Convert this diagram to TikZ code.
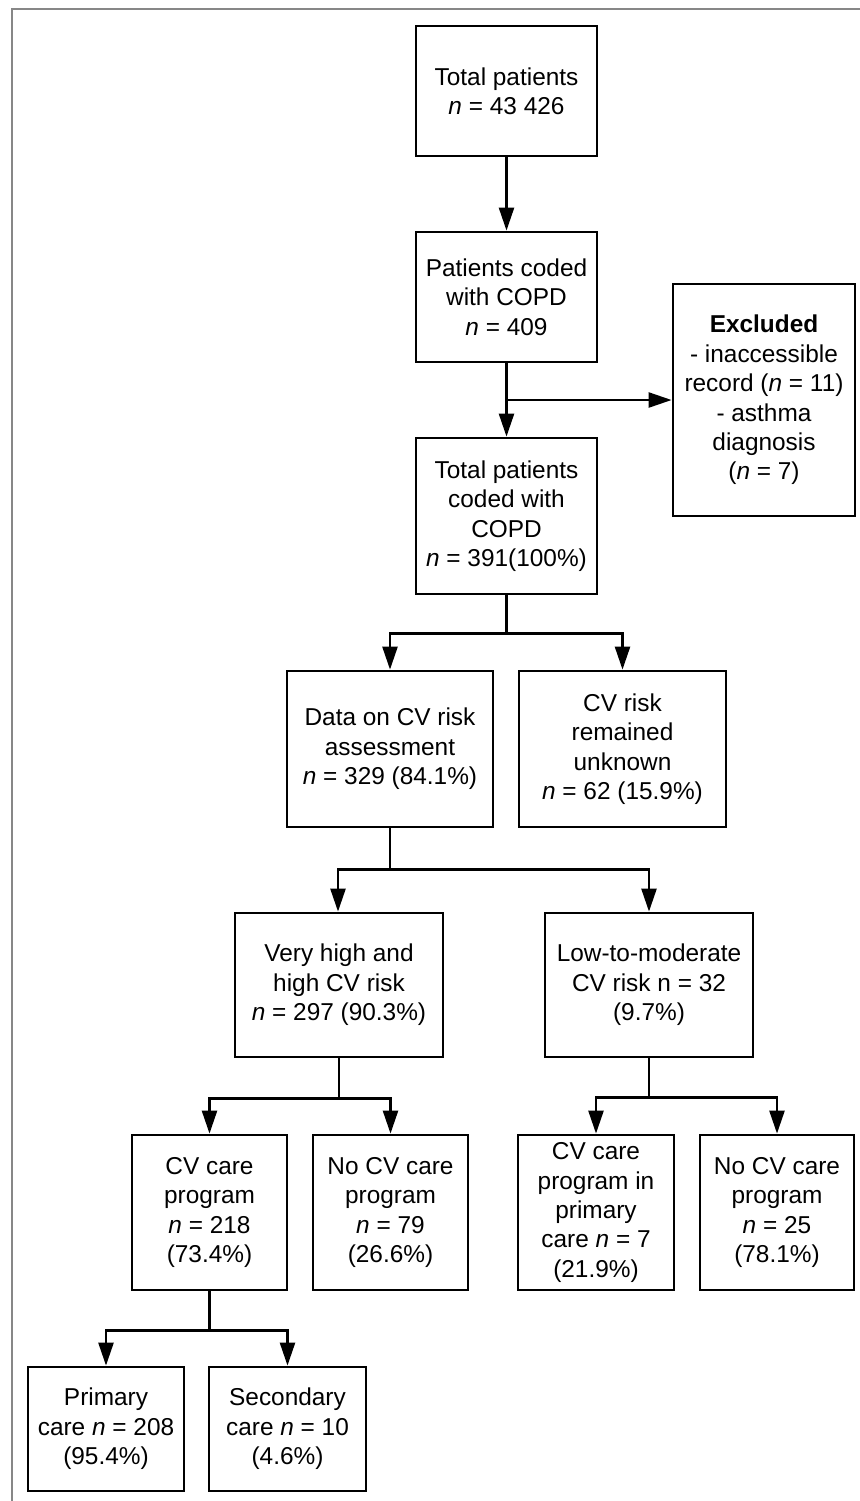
\documentclass[tikz,border=0pt]{standalone}
\usepackage{fontspec}
\setmainfont{Liberation Sans}
\usepackage{tikz}
\usetikzlibrary{arrows.meta, calc}

\begin{document}
\begin{tikzpicture}[x=0.5pt, y=-0.5pt,
        box/.style={rectangle, draw, line width=1.4pt, align=center, inner sep=2pt,
                font=\fontsize{12.2}{14.7}\selectfont},
        link/.style={line width=1.2pt},
        arr/.style={link, -{Triangle[length=11.5pt, width=7.5pt]}}]
        \useasboundingbox (0,0) rectangle (860,1501);
        % frame remnant
        \draw[color=black!47, line width=1pt] (11.5,1501) -- (11.5,8.5) -- (860,8.5);

        \node[box, minimum width=90.5pt, minimum height=65pt] (tot) at (506.5,91)
                {Total patients\\\textit{n} = 43 426};
        \node[box, minimum width=90.5pt, minimum height=65pt] (coded) at (506.5,297)
                {Patients coded\\with COPD\\\textit{n} = 409};
        \node[box, minimum width=91pt, minimum height=116pt] (excl) at (764,400)
                {\textbf{Excluded}\\- inaccessible\\record (\textit{n} = 11)\\- asthma\\diagnosis\\(\textit{n} = 7)};
        \node[box, minimum width=90.5pt, minimum height=78pt] (copd) at (506.5,516)
                {Total patients\\coded with\\COPD\\\textit{n} = 391(100\%)};
        \node[box, minimum width=103pt, minimum height=78pt] (data) at (390,749)
                {Data on CV risk\\assessment\\\textit{n} = 329 (84.1\%)};
        \node[box, minimum width=103.5pt, minimum height=78pt] (unk) at (622.5,749)
                {CV risk\\remained\\unknown\\\textit{n} = 62 (15.9\%)};
        \node[box, minimum width=104pt, minimum height=72pt] (high) at (339,985)
                {Very high and\\high CV risk\\\textit{n} = 297 (90.3\%)};
        \node[box, minimum width=104pt, minimum height=72pt] (low) at (649,985)
                {Low-to-moderate\\CV risk n = 32\\(9.7\%)};
        \node[box, minimum width=77.5pt, minimum height=77.5pt] (care) at (209.5,1212.5)
                {CV care\\program\\\textit{n} = 218\\(73.4\%)};
        \node[box, minimum width=77.5pt, minimum height=77.5pt] (nocare) at (390.5,1212.5)
                {No CV care\\program\\\textit{n} = 79\\(26.6\%)};
        \node[box, minimum width=78pt, minimum height=77.5pt] (lowcare) at (596,1212.5)
                {CV care\\program in\\primary\\care \textit{n} = 7\\(21.9\%)};
        \node[box, minimum width=77pt, minimum height=77.5pt] (lownocare) at (777,1212.5)
                {No CV care\\program\\\textit{n} = 25\\(78.1\%)};
        \node[box, minimum width=78pt, minimum height=62pt] (prim) at (106,1429)
                {Primary\\care \textit{n} = 208\\(95.4\%)};
        \node[box, minimum width=78.5pt, minimum height=62pt] (sec) at (287.5,1429)
                {Secondary\\care \textit{n} = 10\\(4.6\%)};

        % connectors
        \draw[arr] (tot) -- (coded);
        \draw[arr] (coded) -- (copd);
        \draw[arr] (coded.south |- excl.west) -- (excl.west);
        \draw[arr] (copd.south) -- ++(0,38) -| (data.north);
        \draw[arr] (copd.south) -- ++(0,38) -| (unk.north);
        \draw[arr] (data.south) -- ++(0,41) -| ([xshift=-0.5pt]high.north);
        \draw[arr] (data.south) -- ++(0,41) -| (low.north);
        \draw[arr] (high.south) -- ++(0,40) -| (care.north);
        \draw[arr] (high.south) -- ++(0,40) -| (nocare.north);
        \draw[arr] (low.south) -- ++(0,39) -| (lowcare.north);
        \draw[arr] (low.south) -- ++(0,39) -| (lownocare.north);
        \draw[arr] (care.south) -- ++(0,39) -| (prim.north);
        \draw[arr] (care.south) -- ++(0,39) -| (sec.north);
\end{tikzpicture}
\end{document}
